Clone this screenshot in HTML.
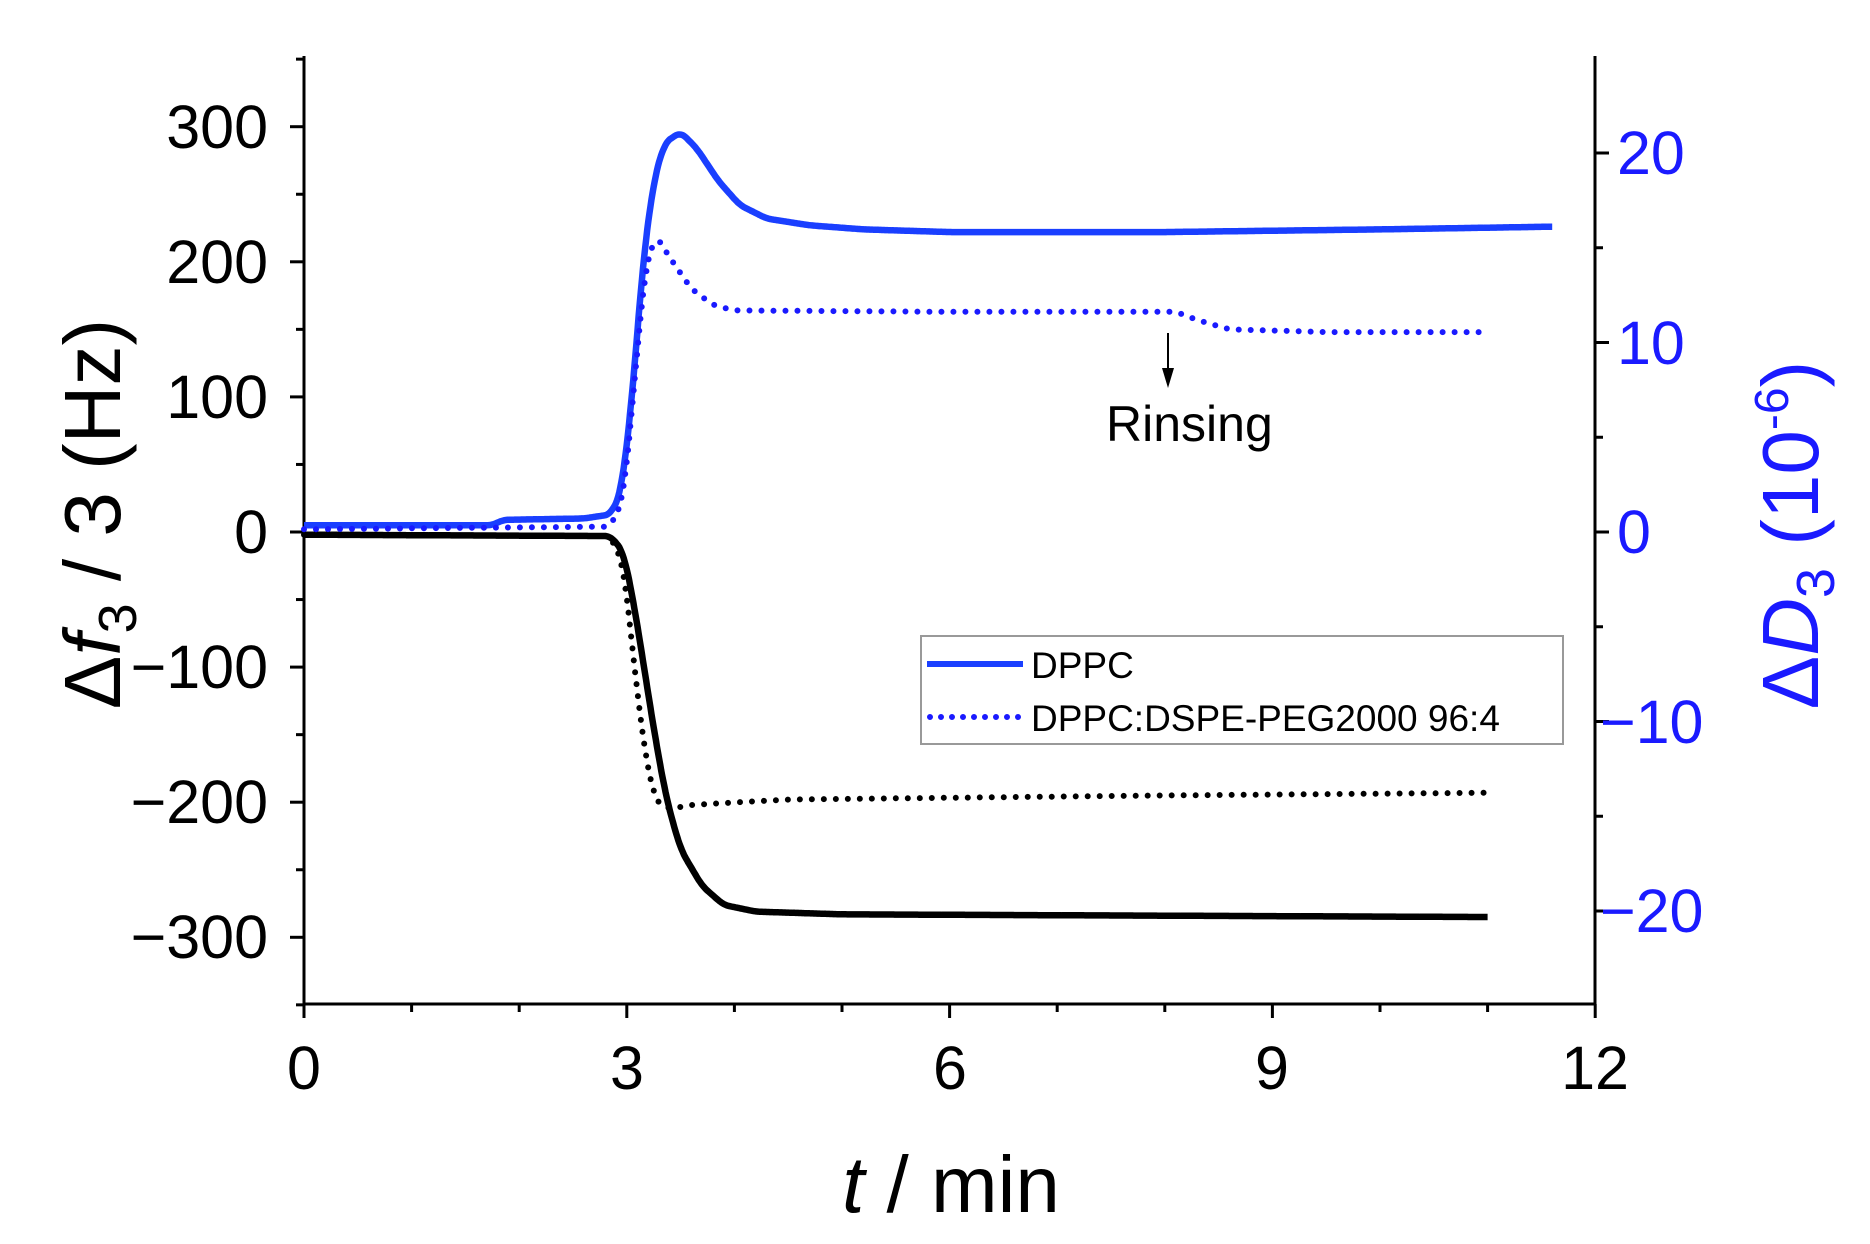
<!DOCTYPE html>
<html><head><meta charset="utf-8"><style>
html,body{margin:0;padding:0;background:#fff;}
svg{display:block;font-family:"Liberation Sans",Arial,sans-serif;}
</style></head><body>
<svg id="s" width="1870" height="1244" viewBox="0 0 1870 1244" xmlns="http://www.w3.org/2000/svg">
<rect width="1870" height="1244" fill="#fff"/>
<g id="ax" stroke="#000" stroke-width="3" fill="none"></g>
<g id="series" fill="none"></g>
<g font-size="61" fill="#000" text-anchor="end">
<text x="268" y="148">300</text>
<text x="268" y="283">200</text>
<text x="268" y="418">100</text>
<text x="268" y="553">0</text>
<text x="268" y="688">−100</text>
<text x="268" y="823">−200</text>
<text x="268" y="958">−300</text>
</g>
<g font-size="61" fill="#1a1aff" text-anchor="start">
<text x="1617" y="174">20</text>
<text x="1617" y="364">10</text>
<text x="1617" y="553">0</text>
<text x="1600" y="743">−10</text>
<text x="1600" y="932">−20</text>
</g>
<g font-size="61" fill="#000" text-anchor="middle">
<text x="304" y="1089">0</text>
<text x="627" y="1089">3</text>
<text x="950" y="1089">6</text>
<text x="1272" y="1089">9</text>
<text x="1595" y="1089">12</text>
</g>
<text x="951" y="1212" font-size="80" text-anchor="middle"><tspan font-style="italic">t</tspan> / min</text>
<text transform="translate(120,514) rotate(-90)" font-size="80" text-anchor="middle">Δ<tspan font-style="italic">f</tspan><tspan font-size="54" dy="16">3</tspan><tspan dy="-16"> / 3 (Hz)</tspan></text>
<text transform="translate(1818,535) rotate(-90)" font-size="80" fill="#1a1aff" text-anchor="middle">Δ<tspan font-style="italic">D</tspan><tspan font-size="54" dy="16">3</tspan><tspan dy="-16"> (10</tspan><tspan font-size="48" dy="-30">-6</tspan><tspan dy="30">)</tspan></text>
<line x1="1168" y1="333" x2="1168" y2="378" stroke="#000" stroke-width="2"/>
<polygon points="1162,368 1174,368 1168,388" fill="#000"/>
<text x="1106" y="441" font-size="50">Rinsing</text>
<rect x="921" y="636" width="642" height="108" fill="#fff" stroke="#999" stroke-width="2"/>
<line x1="927" y1="664" x2="1023" y2="664" stroke="#1a3fff" stroke-width="6"/>
<line x1="930" y1="717" x2="1023" y2="717" stroke="#1a1aff" stroke-width="6" stroke-dasharray="0 11" stroke-linecap="round"/>
<text x="1031" y="678" font-size="37">DPPC</text>
<text x="1031" y="731" font-size="37">DPPC:DSPE-PEG2000 96:4</text>
</svg>
<script>
const X=t=>304+107.6*t, Y=v=>532-1.351*v;
const ax=document.getElementById('ax');
let h='<line x1="304" y1="56" x2="304" y2="1005"/><line x1="1595" y1="56" x2="1595" y2="1005"/><line x1="304" y1="1004" x2="1595" y2="1004"/>';
for(let v=-350;v<=350;v+=50){const y=Y(v);const L=(v%100===0)?14:8;h+=`<line x1="${304-L}" y1="${y}" x2="304" y2="${y}"/>`;}
for(let d=-20;d<=20;d+=5){const y=532-18.95*d;const L=(d%10===0)?14:8;h+=`<line x1="1595" y1="${y}" x2="${1595+L}" y2="${y}"/>`;}
for(let t=0;t<=12;t++){const x=X(t);const L=(t%3===0)?14:8;h+=`<line x1="${x}" y1="1004" x2="${x}" y2="${1004+L}"/>`;}
ax.innerHTML=h;
function lin(p,t){if(t<=p[0][0])return p[0][1];for(let k=0;k<p.length-1;k++){if(t<=p[k+1][0]){const u=(t-p[k][0])/(p[k+1][0]-p[k][0]);return p[k][1]+u*(p[k+1][1]-p[k][1]);}}return p[p.length-1][1];}
function path(p){const t0=p[0][0],t1=p[p.length-1][0],dt=0.01,w=5;let d='';
 const n=Math.round((t1-t0)/dt);
 for(let i=0;i<=n;i++){const t=t0+i*dt;let s=0,c=0;for(let j=-w;j<=w;j++){const tt=Math.min(t1,Math.max(t0,t+j*dt));s+=lin(p,tt);c++;}
  d+=(i?'L':'M')+X(t).toFixed(1)+' '+Y(s/c).toFixed(1);}
 return d;}
const bs=[[0,5],[1.75,5],[1.85,9],[2.6,10],[2.85,13],[2.95,30],[3.05,100],[3.15,200],[3.25,260],[3.35,288],[3.5,296],[3.65,284],[3.85,260],[4.05,242],[4.3,232],[4.7,227],[5.2,224],[6,222],[8,222],[10,224],[11.6,226]];
const bd=[[0,2],[2.85,4],[2.97,25],[3.07,110],[3.17,195],[3.27,220],[3.4,203],[3.6,180],[3.8,168],[4.0,164],[6,163],[8.1,163],[8.3,157],[8.6,150],[9.5,148],[11,148]];
const ks=[[0,-2],[2.85,-3],[2.97,-15],[3.07,-55],[3.17,-105],[3.27,-155],[3.37,-198],[3.5,-235],[3.7,-262],[3.9,-276],[4.2,-281],[5,-283],[8,-284],[11,-285]];
const kd=[[0,-2],[2.85,-3],[2.97,-25],[3.07,-100],[3.17,-165],[3.27,-200],[3.4,-205],[3.6,-202],[4.5,-198],[8,-195],[11,-193]];
document.getElementById('series').innerHTML=
`<path d="${path(ks)}" stroke="#000" stroke-width="6.5" stroke-linejoin="round"/>`+
`<path d="${path(kd)}" stroke="#000" stroke-width="6" stroke-dasharray="0 12" stroke-linecap="round"/>`+
`<path d="${path(bs)}" stroke="#1a3fff" stroke-width="6.5" stroke-linejoin="round"/>`+
`<path d="${path(bd)}" stroke="#1a1aff" stroke-width="6" stroke-dasharray="0 12" stroke-linecap="round"/>`;
</script>
</body></html>
